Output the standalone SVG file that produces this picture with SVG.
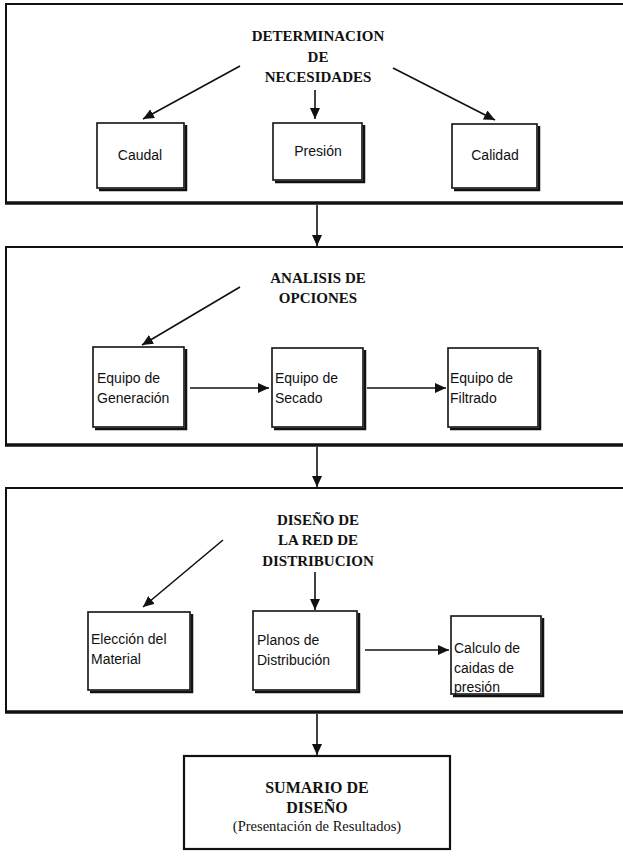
<svg xmlns="http://www.w3.org/2000/svg" width="623" height="856" viewBox="0 0 623 856">
<style>
.big{fill:none;stroke:#111;stroke-width:2}
.bot{stroke:#111;stroke-width:3.5}
.box{fill:#fff;stroke:#111;stroke-width:1.6}
.sh{fill:none;stroke:#111;stroke-width:2.5}
.ttl{font-family:"Liberation Serif","Times New Roman",serif;font-weight:bold;font-size:15px;fill:#111;text-anchor:middle}
.lbl{font-family:"Liberation Sans",Arial,sans-serif;font-size:14px;fill:#111}
.ctr{text-anchor:middle}
.sub{font-family:"Liberation Serif","Times New Roman",serif;font-size:14.5px;fill:#111;text-anchor:middle}
.con{stroke:#111;stroke-width:1.6;fill:none;marker-end:url(#ah)}
</style>
<defs>
<marker id="ah" markerUnits="userSpaceOnUse" markerWidth="12" markerHeight="10" refX="11" refY="5" orient="auto">
<path d="M0,0 L11,5 L0,10 z" fill="#111"/>
</marker>
</defs>
<rect width="623" height="856" fill="#fff"/>

<g id="sec-necesidades">
<rect class="big" x="6" y="4" width="630" height="199"/>
<line class="bot" x1="5" y1="203" x2="623" y2="203"/>
<text class="ttl" x="318" y="41">DETERMINACION</text>
<text class="ttl" x="318" y="62">DE</text>
<text class="ttl" x="318" y="82">NECESIDADES</text>
</g>
<g id="caudal">
<path class="sh" d="M186,125 V190 H99"/>
<rect class="box" x="97" y="123" width="87" height="65"/>
<text class="lbl ctr" x="140" y="160">Caudal</text>
</g>
<g id="presion">
<path class="sh" d="M364,125 V182 H275"/>
<rect class="box" x="273" y="123" width="89" height="57"/>
<text class="lbl ctr" x="318" y="156">Presión</text>
</g>
<g id="calidad">
<path class="sh" d="M539,126 V190 H454"/>
<rect class="box" x="452" y="124" width="85" height="64"/>
<text class="lbl ctr" x="495" y="160">Calidad</text>
</g>

<g id="sec-opciones">
<rect class="big" x="6" y="247" width="630" height="198"/>
<line class="bot" x1="5" y1="445" x2="623" y2="445"/>
<text class="ttl" x="318" y="283">ANALISIS DE</text>
<text class="ttl" x="318" y="303">OPCIONES</text>
</g>
<g id="generacion">
<path class="sh" d="M186,349 V429 H95"/>
<rect class="box" x="93" y="347" width="91" height="80"/>
<text class="lbl" x="97" y="383">Equipo de</text>
<text class="lbl" x="97" y="403">Generación</text>
</g>
<g id="secado">
<path class="sh" d="M365,350 V429 H274"/>
<rect class="box" x="272" y="348" width="91" height="79"/>
<text class="lbl" x="275" y="383">Equipo de</text>
<text class="lbl" x="275" y="403">Secado</text>
</g>
<g id="filtrado">
<path class="sh" d="M540,350 V429 H450"/>
<rect class="box" x="448" y="348" width="90" height="79"/>
<text class="lbl" x="450" y="383">Equipo de</text>
<text class="lbl" x="450" y="403">Filtrado</text>
</g>

<g id="sec-red">
<rect class="big" x="6" y="488" width="630" height="224"/>
<line class="bot" x1="5" y1="712" x2="623" y2="712"/>
<text class="ttl" x="318" y="525">DISEÑO DE</text>
<text class="ttl" x="318" y="545">LA RED DE</text>
<text class="ttl" x="318" y="566">DISTRIBUCION</text>
</g>
<g id="material">
<path class="sh" d="M192,614 V692 H90"/>
<rect class="box" x="88" y="612" width="102" height="78"/>
<text class="lbl" x="91" y="644">Elección del</text>
<text class="lbl" x="91" y="664">Material</text>
</g>
<g id="planos">
<path class="sh" d="M359,613 V692 H255"/>
<rect class="box" x="253" y="611" width="104" height="79"/>
<text class="lbl" x="257" y="645">Planos de</text>
<text class="lbl" x="257" y="665">Distribución</text>
</g>
<g id="calculo">
<path class="sh" d="M543,618 V696 H453"/>
<rect class="box" x="451" y="616" width="90" height="78"/>
<text class="lbl" x="454" y="653">Calculo de</text>
<text class="lbl" x="454" y="673">caidas de</text>
<text class="lbl" x="454" y="692">presión</text>
</g>

<g id="sumario">
<rect x="184" y="756" width="266" height="93" fill="#fff" stroke="#111" stroke-width="2.2"/>
<text class="ttl" x="317" y="793" style="font-size:16px">SUMARIO DE</text>
<text class="ttl" x="317" y="813" style="font-size:16px">DISEÑO</text>
<text class="sub" x="317" y="831">(Presentación de Resultados)</text>
</g>

<g id="connectors">
<line class="con" x1="240" y1="66" x2="143" y2="119"/>
<line class="con" x1="315" y1="90" x2="315" y2="119"/>
<line class="con" x1="393" y1="68" x2="495" y2="120"/>
<line class="con" x1="317" y1="205" x2="317" y2="246"/>
<line class="con" x1="240" y1="287" x2="142" y2="345"/>
<line class="con" x1="190" y1="388" x2="269" y2="388"/>
<line class="con" x1="367" y1="388" x2="446" y2="388"/>
<line class="con" x1="317" y1="447" x2="317" y2="487"/>
<line class="con" x1="223" y1="540" x2="143" y2="607"/>
<line class="con" x1="315" y1="572" x2="315" y2="610"/>
<line class="con" x1="365" y1="650" x2="449" y2="650"/>
<line class="con" x1="317" y1="714" x2="317" y2="755"/>
</g>
</svg>
